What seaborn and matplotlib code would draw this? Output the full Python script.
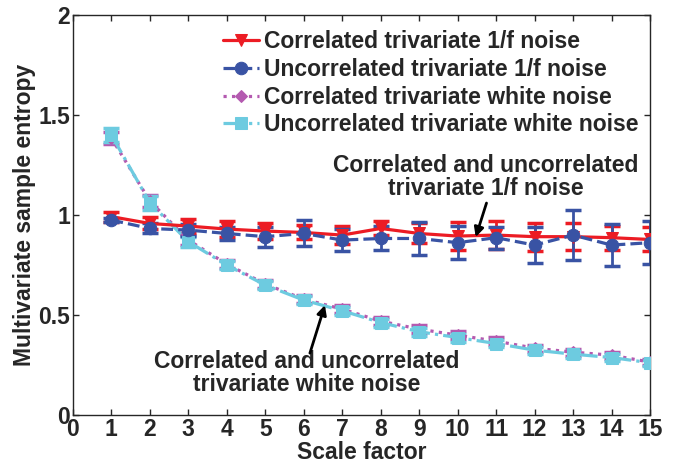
import matplotlib
matplotlib.use("Agg")
import matplotlib.pyplot as plt
import numpy as np
import pandas as pd
import seaborn as sns

# --- DATA ---
scale = list(range(1, 16))

corr_pink = [0.992, 0.958, 0.945, 0.930, 0.920, 0.913, 0.900, 0.933, 0.908, 0.895,
             0.900, 0.892, 0.892, 0.887, 0.878]
corr_pink_err = [0.025, 0.030, 0.033, 0.040, 0.040, 0.035, 0.045, 0.035, 0.050, 0.070,
                 0.070, 0.070, 0.067, 0.060, 0.060]

unc_pink = [0.975, 0.933, 0.925, 0.908, 0.892, 0.908, 0.875, 0.883, 0.883, 0.862,
            0.887, 0.850, 0.900, 0.850, 0.862]
unc_pink_err = [0.010, 0.025, 0.030, 0.033, 0.050, 0.065, 0.055, 0.060, 0.083, 0.083,
                0.055, 0.092, 0.125, 0.106, 0.108]

corr_white = [1.385, 1.070, 0.875, 0.755, 0.655, 0.580, 0.530, 0.470, 0.430, 0.400,
              0.370, 0.335, 0.315, 0.300, 0.265]
corr_white_err = [0.030, 0.030, 0.025, 0.020, 0.020, 0.020, 0.020, 0.020, 0.020, 0.020,
                  0.020, 0.018, 0.018, 0.018, 0.015]

unc_white = [1.400, 1.062, 0.867, 0.750, 0.650, 0.575, 0.522, 0.463, 0.417, 0.388,
             0.358, 0.325, 0.305, 0.288, 0.262]
unc_white_err = [0.036, 0.035, 0.025, 0.020, 0.020, 0.020, 0.020, 0.020, 0.020, 0.020,
                 0.018, 0.018, 0.018, 0.018, 0.015]

labels = ["Correlated trivariate 1/f noise",
          "Uncorrelated trivariate 1/f noise",
          "Correlated trivariate white noise",
          "Uncorrelated trivariate white noise"]

FS = 16.5

# --- STYLE ---
sns.set_style("ticks")
plt.rcParams["font.family"] = ["Liberation Sans Narrow", "Liberation Sans", "DejaVu Sans"]
plt.rcParams["font.weight"] = "bold"
plt.rcParams["xtick.direction"] = "in"
plt.rcParams["ytick.direction"] = "in"

fig = plt.figure(figsize=(6.75, 4.66), dpi=100)
ax = fig.add_axes([0.108, 0.109, 0.855, 0.859])

# series: (values, errors, color, linestyle, marker, markersize)
series = [
    (corr_white, corr_white_err, "#b45ab0", ":", "D", 6),
    (unc_white, unc_white_err, "#6dcbe0", "-.", "s", 8),
    (corr_pink, corr_pink_err, "#ec1c24", "-", "v", 8),
    (unc_pink, unc_pink_err, "#3953a4", "--", "o", 9),
]
names = [labels[2], labels[3], labels[0], labels[1]]

handles = {}
for (vals, errs, col, ls, mk, ms), name in zip(series, names):
    df = pd.DataFrame({"scale": scale, "mse": vals})
    ax.errorbar(scale, vals, yerr=errs, fmt="none", ecolor=col, elinewidth=2,
                capsize=5.5, capthick=2.5, zorder=2)
    sns.lineplot(data=df, x="scale", y="mse", ax=ax, color=col, linestyle=ls,
                 linewidth=2.3, marker=mk, markersize=ms, markeredgecolor=col,
                 label=name, zorder=3)
    handles[name] = ax.get_lines()[-1]

ax.legend([handles[l] for l in labels], labels, loc="upper right", frameon=False,
          handlelength=1.6, handletextpad=0.2, labelspacing=0.2,
          borderaxespad=0.1, bbox_to_anchor=(1.0, 0.99),
          prop={"weight": "bold", "size": FS})

# annotation texts and arrows
ax.text(10.73, 1.19, "Correlated and uncorrelated\ntrivariate 1/f noise",
        ha="center", va="center", fontsize=FS, fontweight="bold", linespacing=1.0)
ax.annotate("", xy=(10.47, 0.89), xytext=(10.75, 1.06),
            arrowprops=dict(arrowstyle="-|>", color="black", lw=2, mutation_scale=14,
                            shrinkA=0, shrinkB=0))
ax.text(6.08, 0.21, "Correlated and uncorrelated\ntrivariate white noise",
        ha="center", va="center", fontsize=FS, fontweight="bold", linespacing=1.0)
ax.annotate("", xy=(6.55, 0.55), xytext=(6.16, 0.31),
            arrowprops=dict(arrowstyle="-|>", color="black", lw=2, mutation_scale=14,
                            shrinkA=0, shrinkB=0))

ax.set_xlim(0, 15)
ax.set_ylim(0, 2)
ax.set_xticks(range(0, 16))
ax.set_yticks([0, 0.5, 1, 1.5, 2])
ax.set_yticklabels(["0", "0.5", "1", "1.5", "2"])
ax.tick_params(top=True, right=True, labelsize=FS, length=4, width=1, pad=2)
for t in ax.get_xticklabels() + ax.get_yticklabels():
    t.set_fontweight("bold")
for s in ax.spines.values():
    s.set_linewidth(1)
    s.set_visible(True)
ax.set_xlabel("Scale factor", fontsize=FS, fontweight="bold", labelpad=0)
ax.set_ylabel("Multivariate sample entropy", fontsize=FS, fontweight="bold", labelpad=2)

fig.savefig("out.png", dpi=100)
